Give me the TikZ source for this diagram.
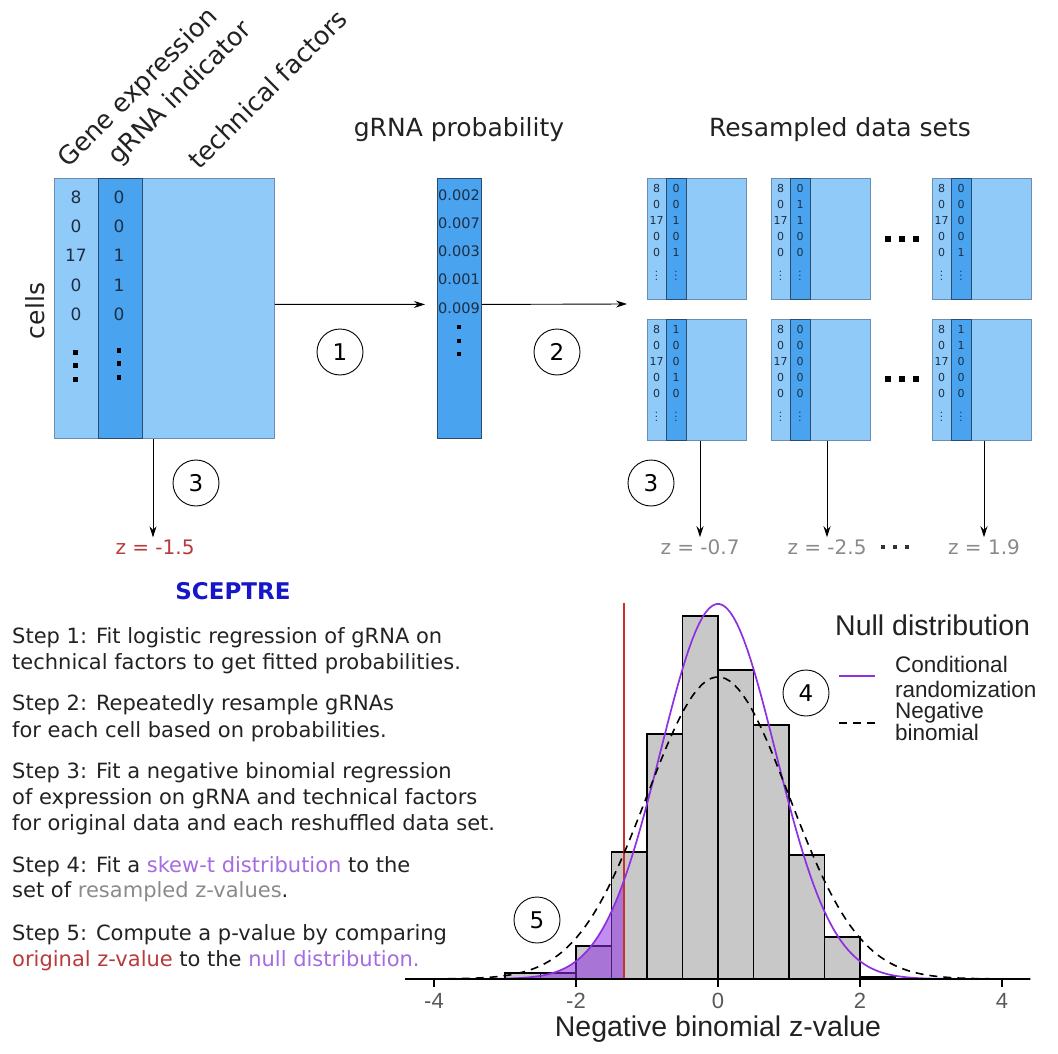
\documentclass[tikz,border=0pt]{standalone}
\usepackage{fontspec}
\setmainfont{DejaVu Sans}
\newfontfamily\plotfont{Liberation Sans}
\usepackage{tikz}
\usetikzlibrary{
    arrows.meta,
    calc,
    positioning
}

\definecolor{cellblue}{HTML}{90CAF9}
\definecolor{grnablue}{HTML}{4AA3EE}
\definecolor{edgeblue}{HTML}{6B8DB0}
\definecolor{lineblue}{HTML}{2B4C6E}
\definecolor{numblue}{HTML}{1C2E44}
\definecolor{zred}{HTML}{B83A3A}
\definecolor{cutred}{HTML}{C8302A}
\definecolor{zgrey}{HTML}{8A8A8A}
\definecolor{skewpurple}{HTML}{8E2FE0}
\definecolor{lightpurple}{HTML}{A56BE0}
\definecolor{sceptreblue}{HTML}{1717C8}
\definecolor{bargrey}{HTML}{C8C8C8}
\definecolor{txt}{HTML}{222222}

\newcommand{\pxsize}[2]{\fontsize{#1}{#2}\selectfont}

\tikzset{
    matbox/.style={draw=edgeblue, fill=cellblue, line width=0.8pt, inner sep=0pt, anchor=north west},
    grnacol/.style={draw=lineblue, fill=grnablue, line width=0.9pt},
    flow/.style={->, line width=0.9pt},
    circnum/.style={draw, circle, line width=0.9pt, minimum size=46pt, inner sep=0pt, font=\pxsize{23}{26}},
    bignum/.style={font=\pxsize{17}{20}, text=numblue, inner sep=0pt},
    smallnum/.style={font=\pxsize{11}{12}, text=numblue, inner sep=0pt},
    probnum/.style={font=\pxsize{14.5}{16}, text=numblue, inner sep=0pt},
    header/.style={font=\pxsize{25}{30}, text=txt},
    colhead/.style={font=\pxsize{25.5}{30}, text=txt, rotate=45, anchor=base west, inner sep=0pt},
    zlab/.style={font=\pxsize{20}{24}, inner sep=2pt},
    steptext/.style={anchor=base west, inner sep=0pt, text=txt, font=\pxsize{21}{26}},
    histbar/.style={draw=black, fill=bargrey, line width=1.7pt},
    legtext/.style={anchor=base west, inner sep=0pt, text=txt, font=\plotfont\pxsize{22.5}{25}},
    sqdot/.style={fill=black}
}

\begin{document}
\begin{tikzpicture}[x=1pt, y=-1pt, >={Stealth[length=11pt, width=7pt]}]
\useasboundingbox (0,0) rectangle (1058,1054);

% original data matrix
\node[matbox, minimum width=220pt, minimum height=260pt] (mat) at (54,178) {};
\node[grnacol, anchor=north west, inner sep=0pt, minimum width=44pt, minimum height=260pt] (ind) at (98,178) {};
\foreach \g [count=\j] in {8,0,17,0,0}
    \node[bignum] (gene\j) at (76,{197+29.3*(\j-1)}) {\g};
\foreach \g [count=\j] in {0,0,1,1,0}
    \node[bignum] (grna\j) at (119,{197+29.3*(\j-1)}) {\g};
\foreach \d in {350,363,377} {
    \fill[sqdot] (73,\d) rectangle ++(4.5,4.5);
    \fill[sqdot] (116.5,{\d-2}) rectangle ++(4.5,4.5);
}
\node[colhead] (genehead) at (68,169) {Gene expression};
\node[colhead] (grnahead) at (118,166) {gRNA indicator};
\node[colhead] (techhead) at (199,171) {technical factors};
\node[header] at (35,311) [rotate=90] (cellslab) {cells};

% fitted probabilities
\node[grnacol, anchor=north west, inner sep=0pt, minimum width=44pt, minimum height=260pt] (prob) at (437,178) {};
\foreach \p [count=\j] in {0.002,0.007,0.003,0.001,0.009}
    \node[probnum] (prob\j) at (459,{195+28.2*(\j-1)}) {\p};
\foreach \d in {325,339,352}
    \fill[sqdot] (457,\d) rectangle ++(3.8,3.8);
\node[header, anchor=base] (probhead) at (459,137) {gRNA probability};

% resampled data sets
\node[header, anchor=base] (setshead) at (840,137) {Resampled data sets};
\foreach \bx/\by/\ga/\gb/\gc/\gd/\ge [count=\k] in {
    647/178/0/0/1/0/1, 771/178/0/1/1/0/0, 932/178/0/0/0/0/1,
    647/319/1/0/0/1/0, 771/319/0/0/0/0/0, 932/319/1/1/0/0/0} {
    \node[matbox, minimum width=99pt, minimum height=121pt] (set\k) at (\bx,\by) {};
    \draw[grnacol] ({\bx+19},\by) rectangle ({\bx+39},{\by+121});
    \foreach \g [count=\j] in {8,0,17,0,0}
        \node[smallnum] (sg\k-\j) at ({\bx+9.5},{\by+10+16*(\j-1)}) {\g};
    \foreach \g [count=\j] in {\ga,\gb,\gc,\gd,\ge}
        \node[smallnum] (sr\k-\j) at ({\bx+29},{\by+10+16*(\j-1)}) {\g};
    \node[smallnum, font=\pxsize{10}{10}] (sgd\k) at ({\bx+9.5},{\by+95}) {$\vdots$};
    \node[smallnum, font=\pxsize{10}{10}] (srd\k) at ({\bx+29},{\by+95}) {$\vdots$};
}
\foreach \y in {239,379}
    \foreach \x in {888,902,916}
        \fill[sqdot] ({\x-2.7},{\y-2.7}) rectangle ++(5.4,5.4);

% steps 1 and 2
\coordinate (fanin) at (627,304);
\draw[flow] ([yshift=4pt]mat.east) -- ([yshift=4pt, xshift=-12pt]prob.west);
\draw[flow] ([yshift=4pt]prob.east) -- (fanin);
\node[circnum] (c1) at (340,352) {1};
\node[circnum] (c2) at (557,352) {2};

% step 3: z-values
\node[zlab, text=zred] (zorig) at (155,547) {z = -1.5};
\node[zlab, text=zgrey] (za) at (700,547) {z = -0.7};
\node[zlab, text=zgrey] (zb) at (827,547) {z = -2.5};
\node[zlab, text=zgrey] (zc) at (984,547) {z = 1.9};
\foreach \x in {883,895,907}
    \fill[black!80] ({\x-1.9},{547-1.9}) rectangle ++(3.8,3.8);
\draw[flow] ([xshift=-2pt]zorig.north |- mat.south) -- ([xshift=-2pt]zorig.north);
\draw[flow] (za.north |- set4.south) -- (za.north);
\draw[flow] (zb.north |- set5.south) -- (zb.north);
\draw[flow] (zc.north |- set6.south) -- (zc.north);
\node[circnum] (c3a) at (196,483) {3};
\node[circnum] (c3b) at (651,483) {3};

% method text
\node[font=\bfseries\pxsize{23}{26}, text=sceptreblue] (sceptre) at (233,591) {SCEPTRE};
\foreach \yb/\line [count=\i] in {
    643/{Step 1: Fit logistic regression of gRNA on},
    669/{technical factors to get fitted probabilities.},
    710/{Step 2: Repeatedly resample gRNAs},
    737/{for each cell based on probabilities.},
    778/{Step 3: Fit a negative binomial regression},
    804/{of expression on gRNA and technical factors},
    830/{for original data and each reshuffled data set.},
    872/{Step 4: Fit a \textcolor{lightpurple}{skew-t distribution} to the},
    897/{set of \textcolor{zgrey}{resampled z-values}.},
    940/{Step 5: Compute a p-value by comparing},
    966/{\textcolor{zred}{original z-value} to the \textcolor{lightpurple}{null distribution.}}}
    \node[steptext] (line\i) at (12,\yb) {\line};

% null distribution histogram
\begin{scope}[shift={(718,979)}, x=71pt, y=1pt]
    \foreach \a/\h in {-3/6,-2.5/6,-2/33,-1.5/127,-1/245,-0.5/363,0/309,0.5/254,1/124,1.5/42,2/2}
        \draw[histbar] (\a,0) rectangle ({\a+0.5},\h);
    \fill[skewpurple, opacity=0.55] (-3.3,0) -- plot[domain=-3.3:-1.33, samples=60] (\x,{375*exp(-(\x)^2/1.3122)}) -- (-1.33,0) -- cycle;
    \draw[cutred, line width=2pt] (-1.33,0) -- (-1.33,376);
    \draw[skewpurple, line width=1.7pt] plot[domain=-3.4:3.4, samples=140] (\x,{375*exp(-(\x)^2/1.3122)});
    \draw[black, line width=1.6pt, dash pattern=on 8pt off 6pt] plot[domain=-4.4:4.4, samples=140] (\x,{302*exp(-(\x)^2/2)});
    \draw[line width=1.8pt] (-4.41,0) -- (4.39,0);
    \foreach \t [count=\i] in {-4,-2,0,2,4} {
        \draw[line width=1.2pt] (\t,0) -- (\t,-8);
        \node[font=\plotfont\pxsize{22}{24}, text=black!65] (tick\i) at (\t,-22) {\t};
    }
\end{scope}
\node[font=\plotfont\pxsize{28.5}{32}, text=txt] (xlab) at (718,1029) {Negative binomial z-value};

% legend
\node[font=\plotfont\pxsize{28.5}{32}, anchor=base west, inner sep=0pt, text=txt] (legtitle) at (835,635) {Null distribution};
\draw[skewpurple, line width=1.7pt] (839,676) -- (875,676);
\draw[black, line width=1.6pt, dash pattern=on 8pt off 6pt] (839,723) -- (875,723);
\node[legtext] (leg1) at (895,672) {Conditional};
\node[legtext] (leg2) at (895,697) {randomization};
\node[legtext] (leg3) at (895,718) {Negative};
\node[legtext] (leg4) at (895,740) {binomial};
\node[circnum] (c4) at (806,693) {4};
\node[circnum] (c5) at (537,920) {5};
\end{tikzpicture}
\end{document}
